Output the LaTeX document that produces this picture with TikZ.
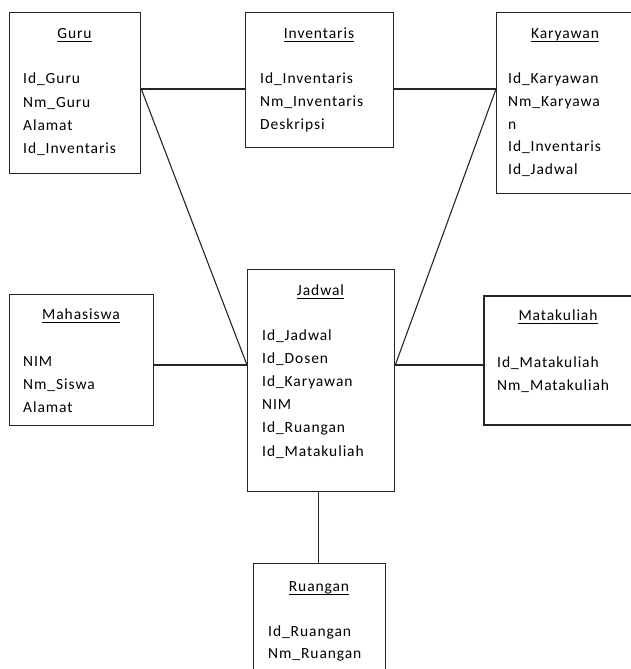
\documentclass[tikz,border=0pt]{standalone}
\usepackage{fontspec}
\setmainfont{Carlito}
\newfontfamily\boxfont[LetterSpace=6]{Carlito}
\begin{document}
\begin{tikzpicture}[x=1pt,y=-1pt,
  entity/.style={draw=black!85,line width=1.3pt,inner sep=0pt,anchor=north west},
  heading/.style={font=\boxfont\fontsize{15.5}{19}\selectfont,inner sep=0pt,anchor=base},
  field/.style={font=\boxfont\fontsize{15.5}{19}\selectfont,inner sep=0pt,anchor=base west},
  link/.style={draw=black!85,line width=1.1pt},
  uline/.style={draw=black,line width=1.3pt}]
\useasboundingbox (0,0) rectangle (631,669);
\clip (0,0) rectangle (631,669);

% entity boxes
\node[entity,minimum width=131pt,minimum height=161pt] (guru) at (9,12) {};
\node[entity,minimum width=148pt,minimum height=135pt] (inv) at (245,12) {};
\node[entity,minimum width=140pt,minimum height=181pt] (kar) at (496,12) {};
\node[entity,minimum width=144pt,minimum height=131pt] (mhs) at (9,294) {};
\node[entity,minimum width=147pt,minimum height=222pt] (jad) at (247,269) {};
\node[entity,line width=2pt,minimum width=152pt,minimum height=129pt] (mk) at (483,295) {};
\node[entity,minimum width=132pt,minimum height=120pt] (rg) at (253,563) {};

% headings (underlined)
\foreach \n/\x/\y/\t in {hguru/74.5/38/Guru, hinv/319/38/Inventaris,
    hkar/565/38/Karyawan, hmhs/81/319/Mahasiswa, hjad/320.5/295/Jadwal,
    hmk/558/320/Matakuliah, hrg/319/591/Ruangan}{
  \node[heading] (\n) at (\x,\y) {\t};
  \draw[uline] ([yshift=-3.2pt]\n.base west) -- ([yshift=-3.2pt]\n.base east);
}

% attribute lists
\foreach \t [count=\i from 0] in {Id\_Guru, Nm\_Guru, Alamat, Id\_Inventaris}
  \node[field] (guru-\i) at (23,84+23*\i) {\t};
\foreach \t [count=\i from 0] in {Id\_Inventaris, Nm\_Inventaris, Deskripsi}
  \node[field] (inv-\i) at (260,83+23*\i) {\t};
\foreach \t [count=\i from 0] in {Id\_Karyawan, Nm\_Karyawa, n, Id\_Inventaris, Id\_Jadwal}
  \node[field] (kar-\i) at (508,84+22.6*\i) {\t};
\foreach \t [count=\i from 0] in {NIM, Nm\_Siswa, Alamat}
  \node[field] (mhs-\i) at (23,366+23*\i) {\t};
\foreach \t [count=\i from 0] in {Id\_Jadwal, Id\_Dosen, Id\_Karyawan, NIM, Id\_Ruangan, Id\_Matakuliah}
  \node[field] (jad-\i) at (262,340+23.2*\i) {\t};
\foreach \t [count=\i from 0] in {Id\_Matakuliah, Nm\_Matakuliah}
  \node[field] (mk-\i) at (497,367+23*\i) {\t};
\foreach \t [count=\i from 0] in {Id\_Ruangan, Nm\_Ruangan}
  \node[field] (rg-\i) at (268,636+22.5*\i) {\t};

% connection points on the box edges
\path (guru.north east) ++(0,77) coordinate (gA);
\path (jad.north west) ++(0,96) coordinate (jL);
\path (jad.north east) ++(0,96) coordinate (jR);

% relationships
\draw[link] (gA) -- (gA -| inv.west);
\draw[link] (gA -| inv.east) -- (gA -| kar.west);
\draw[link] (gA) -- (jL);
\draw[link] (gA -| kar.west) -- (jR);
\draw[link] (jL -| mhs.east) -- (jL);
\draw[link] (jR) -- (jR -| mk.west);
\draw[link] (jad.south) ++(-3,0) coordinate (jB) -- (jB |- rg.north);
\end{tikzpicture}
\end{document}
